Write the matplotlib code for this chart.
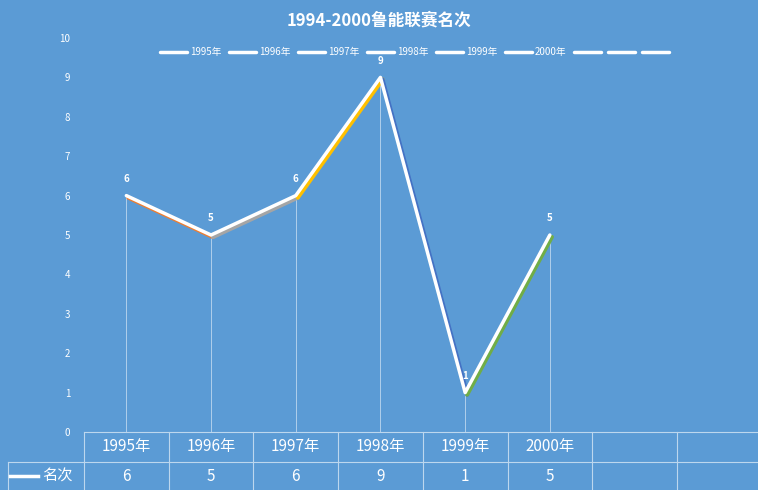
import matplotlib
matplotlib.use('Agg')
import matplotlib.pyplot as plt
import matplotlib.transforms as mtransforms

plt.rcParams['font.family'] = ['Noto Sans CJK SC', 'DejaVu Sans']

years = ['1995年', '1996年', '1997年', '1998年', '1999年', '2000年']
ranks = [6, 5, 6, 9, 1, 5]
seg_colors = ['#ED7D31', '#A5A5A5', '#FFC000', '#4472C4', '#70AD47']
n_slots = 8
bg = '#5B9BD5'
W, H = 758, 490

fig = plt.figure(figsize=(W / 100, H / 100), dpi=100, facecolor=bg)
slot = 84.7
x0 = 84
ax = fig.add_axes([x0 / W, (H - 432) / H, n_slots * slot / W, (432 - 38) / H])
ax.set_facecolor(bg)
ax.set_xlim(-0.5, n_slots - 0.5)
ax.set_ylim(0, 10)
for s in ax.spines.values():
    s.set_visible(False)
ax.set_xticks([])
ax.set_yticks(range(11))
ax.tick_params(axis='y', length=0, colors='white', labelsize=7, pad=10)

xs = list(range(len(ranks)))
# drop lines
for x, r in zip(xs, ranks):
    ax.plot([x, x], [0, r], color='white', lw=0.6, alpha=0.6)
# colored shadow segments
off = mtransforms.offset_copy(ax.transData, fig=fig, x=2, y=-2, units='dots')
for i, c in enumerate(seg_colors):
    ax.plot(xs[i:i + 2], ranks[i:i + 2], color=c, lw=3, transform=off, solid_capstyle='round')
ax.plot(xs, ranks, color='white', lw=2.5, solid_capstyle='round')
for x, r in zip(xs, ranks):
    ax.annotate(str(r), (x, r), xytext=(0, 10), textcoords='offset points',
                ha='center', color='white', fontsize=7, fontweight='bold')

fig.text(0.5, 1 - 20 / H, '1994-2000鲁能联赛名次', ha='center', va='center',
         color='white', fontsize=12, fontweight='bold')

# legend row
lx = 160
for i in range(9):
    fig.add_artist(plt.Line2D([lx / W, (lx + 27) / W], [1 - 52 / H] * 2,
                              color='white', lw=2.5, solid_capstyle='round'))
    lx += 30
    if i < len(years):
        fig.text(lx / W, 1 - 52 / H, years[i], color='white', fontsize=7, va='center')
        lx += 39
    else:
        lx += 4

# data table
lc = dict(color='#BDD7EE', lw=0.8)
r0, r1, r2 = 432, 462, 490
xr = x0 + n_slots * slot
fig.add_artist(plt.Line2D([x0 / W, xr / W], [1 - r0 / H] * 2, **lc))
fig.add_artist(plt.Line2D([8 / W, xr / W], [1 - r1 / H] * 2, **lc))
fig.add_artist(plt.Line2D([8 / W, 8 / W], [1 - r1 / H, 0], **lc))
for k in range(n_slots + 1):
    xb = x0 + k * slot
    fig.add_artist(plt.Line2D([xb / W] * 2, [1 - r0 / H, 0], **lc))
for k, (y, r) in enumerate(zip(years, ranks)):
    xc = (x0 + (k + 0.5) * slot) / W
    fig.text(xc, 1 - (r0 + r1) / 2 / H, y, ha='center', va='center', color='white', fontsize=11)
    fig.text(xc, 1 - (r1 + r2) / 2 / H, str(r), ha='center', va='center', color='white', fontsize=11)
fig.add_artist(plt.Line2D([10 / W, 38 / W], [1 - 476 / H] * 2, color='white', lw=2.5))
fig.text(42 / W, 1 - 476 / H, '名次', va='center', color='white', fontsize=11)

fig.savefig('out.png', dpi=100, facecolor=bg)
